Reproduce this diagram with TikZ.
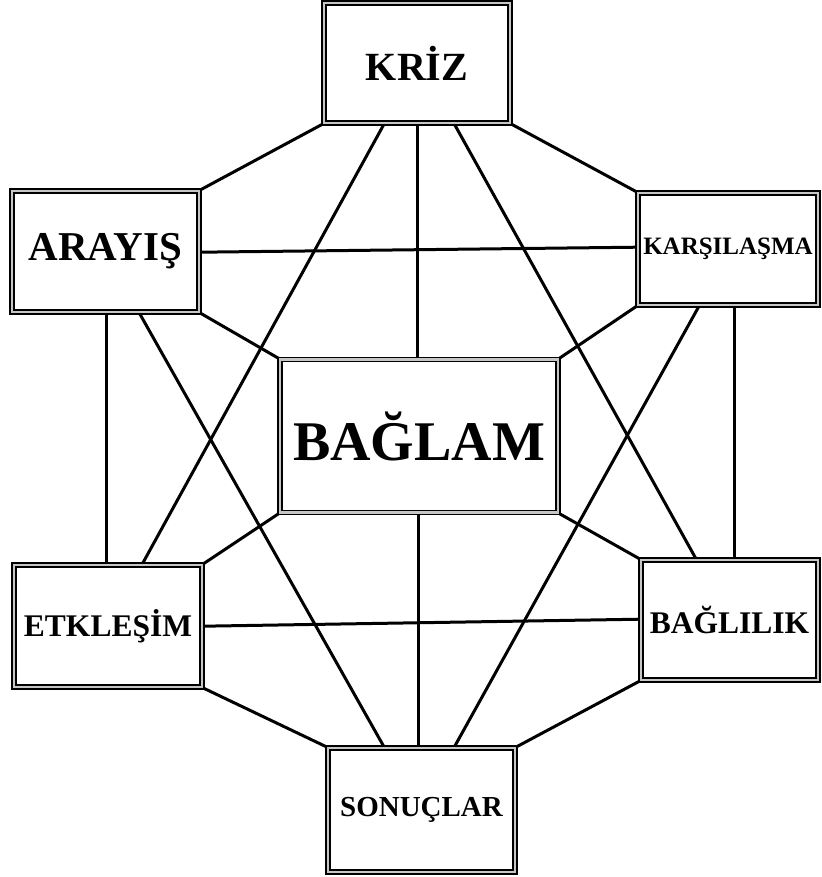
\documentclass[tikz,border=0pt]{standalone}
\usepackage{fontspec}
\setmainfont{Liberation Serif}
\usetikzlibrary{calc,backgrounds}
\tikzset{
  box/.style={draw=black, double=gray!45, double distance=2.2pt, line width=1.6pt,
    fill=white, rectangle, inner sep=0pt, font=\bfseries},
  link/.style={line width=3pt, black}
}
\begin{document}
\begin{tikzpicture}[x=1pt,y=-1pt]
\useasboundingbox (0,0) rectangle (821,877);
% boxes
\node[box, minimum width=186, minimum height=120] (kriz) at (417,63) {\fontsize{40}{40}\selectfont KRİZ};
\node[box, minimum width=278, minimum height=153] (baglam) at (419,436) {\fontsize{56}{56}\selectfont BAĞLAM};
\node[box, minimum width=180, minimum height=112] (kars) at (728,249) {\fontsize{25}{25}\selectfont KARŞILAŞMA};
\node[box, minimum width=187, minimum height=121] (arayis) at (105.5,251.5) {\fontsize{41}{41}\selectfont ARAYIŞ};
\node[box, minimum width=188, minimum height=122] (etk) at (108,626) {\fontsize{31.5}{31.5}\selectfont ETKLEŞİM};
\node[box, minimum width=177, minimum height=120] (bagl) at (729.5,620) {\fontsize{31.5}{31.5}\selectfont BAĞLILIK};
\node[box, minimum width=187, minimum height=124] (sonuc) at (421.5,810) {\fontsize{29}{29}\selectfont SONUÇLAR};
% connectors behind the boxes
\begin{pgfonlayer}{background}
\fill[white] (0,0) rectangle (821,877);
\draw[link] (kriz.south west) -- (arayis.north east);
\draw[link] (kriz.south east) -- (kars.north west);
\draw[link] ($(kriz.south west)+(94,0)$) -- ($(baglam.north west)+(138,0)$);
\draw[link] ($(kriz.south west)+(61,0)$) -- ($(etk.north west)+(129,0)$);
\draw[link] ($(kriz.south west)+(131,0)$) -- ($(bagl.north west)+(56,0)$);
\draw[link] ($(arayis.north east)+(0,62)$) -- ($(kars.north west)+(0,55)$);
\draw[link] (arayis.south east) -- (baglam.north west);
\draw[link] (kars.south west) -- (baglam.north east);
\draw[link] ($(arayis.south west)+(95,0)$) -- ($(etk.north west)+(93,0)$);
\draw[link] ($(arayis.south west)+(128,0)$) -- ($(sonuc.north west)+(57,0)$);
\draw[link] ($(kars.south west)+(97,0)$) -- ($(bagl.north west)+(94,0)$);
\draw[link] ($(kars.south west)+(62,0)$) -- ($(sonuc.north west)+(127,0)$);
\draw[link] ($(etk.north east)+(0,62)$) -- ($(bagl.north west)+(0,60)$);
\draw[link] (etk.north east) -- (baglam.south west);
\draw[link] (bagl.north west) -- (baglam.south east);
\draw[link] (etk.south east) -- (sonuc.north west);
\draw[link] (bagl.south west) -- (sonuc.north east);
\draw[link] ($(baglam.south west)+(139,0)$) -- ($(sonuc.north west)+(91,0)$);
\end{pgfonlayer}
\end{tikzpicture}
\end{document}
